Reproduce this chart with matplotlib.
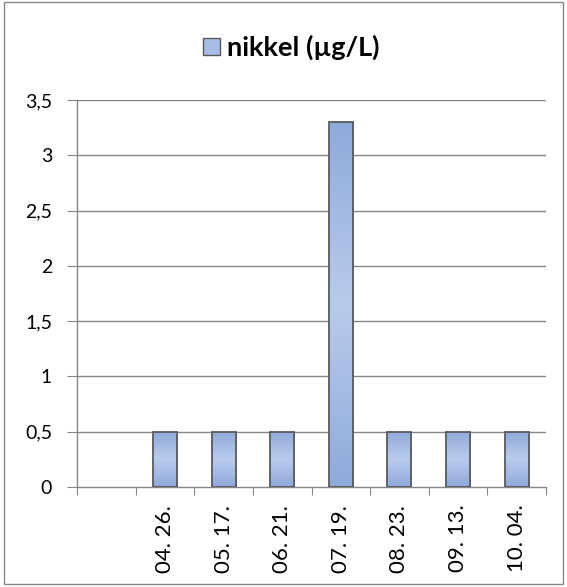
import numpy as np
import matplotlib
matplotlib.use("Agg")
import matplotlib.pyplot as plt
from matplotlib.patches import Rectangle
from matplotlib.colors import LinearSegmentedColormap

categories = ["", "04. 26.", "05. 17.", "06. 21.", "07. 19.", "08. 23.", "09. 13.", "10. 04."]
values = [np.nan, 0.5, 0.5, 0.5, 3.3, 0.5, 0.5, 0.5]
series_name = "nikkel (µg/L)"
yticks = [0, 0.5, 1, 1.5, 2, 2.5, 3, 3.5]
ytick_labels = ["0", "0,5", "1", "1,5", "2", "2,5", "3", "3,5"]

plt.rcParams["font.family"] = ["Lato", "DejaVu Sans"]

W, H = 567, 587
fig = plt.figure(figsize=(W / 100, H / 100), dpi=100)
ax = fig.add_axes([77 / W, 1 - 487 / H, 469 / W, 387 / H])

grid_c = "#868686"
x = np.arange(len(categories))
bar_w = 0.41

for yv in yticks[1:]:
    ax.axhline(yv, color=grid_c, lw=1, zorder=1)

bars = ax.bar(x, values, width=bar_w, color="none", edgecolor="#5a5a5a", lw=1.3, zorder=4)

# vertical gradient fill: deeper blue at the ends, lighter through the middle
cmap = LinearSegmentedColormap.from_list(
    "barfill", ["#8eaadb", "#b9cbec", "#8eaadb"])
grad = np.linspace(0, 1, 256).reshape(-1, 1)
for b in bars:
    h = b.get_height()
    if not np.isfinite(h) or h <= 0:
        continue
    x0 = b.get_x()
    im = ax.imshow(grad, cmap=cmap, aspect="auto",
                   extent=[x0, x0 + b.get_width(), 0, h],
                   origin="lower", zorder=3, interpolation="bilinear")
    im.set_clip_path(Rectangle((x0, 0), b.get_width(), h, transform=ax.transData))
ax.set_xlim(-0.5, len(categories) - 0.5)
ax.set_ylim(0, 3.5)

for s in ["top", "right"]:
    ax.spines[s].set_visible(False)
for s in ["left", "bottom"]:
    ax.spines[s].set_color(grid_c)
    ax.spines[s].set_linewidth(1)

ax.set_yticks(yticks)
ax.set_yticklabels(ytick_labels, fontsize=14)
ax.tick_params(axis="y", length=7, color=grid_c, pad=11)

# category boundary ticks with labels centred between them
ax.set_xticks(np.arange(len(categories) + 1) - 0.5)
ax.set_xticklabels([])
ax.tick_params(axis="x", length=6, color=grid_c)
for xi, lab in zip(x, categories):
    ax.text(xi, -0.16, lab, rotation=90, ha="center", va="top",
            fontsize=16, transform=ax.transData, clip_on=False)

# legend entry above the plot
fig.patches.append(Rectangle((203 / W, 1 - 55 / H), 17 / W, 17 / H,
                             transform=fig.transFigure, facecolor="#a7bde6",
                             edgecolor="#5a5a5a", lw=1))
fig.text(227 / W, 1 - 47 / H, series_name, fontsize=19.5, fontweight="bold",
         ha="left", va="center")

# chart border
fig.patches.append(Rectangle((4 / W, 1 - 584 / H), 559 / W, 582 / H,
                             transform=fig.transFigure, facecolor="none",
                             edgecolor="#868686", lw=1))

fig.savefig("out.png", dpi=100, facecolor="white")
